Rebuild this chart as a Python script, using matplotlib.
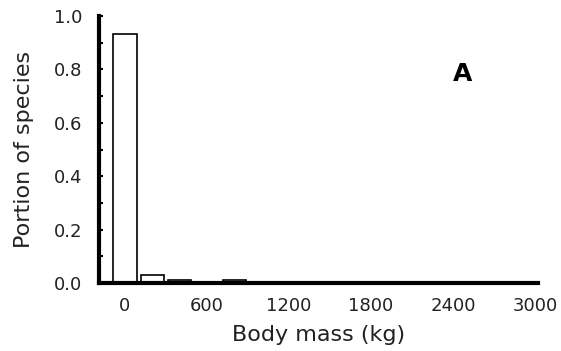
import matplotlib.pyplot as plt
import numpy as np

plt.rcParams['font.family'] = ['DejaVu Sans']

# body mass bins (kg) and portion of species
bins = [0, 200, 400, 600, 800]
portion = [0.933, 0.03, 0.01, 0.0, 0.01]
xticks = [0, 600, 1200, 1800, 2400, 3000]
yticks = [0.0, 0.2, 0.4, 0.6, 0.8, 1.0]

fig = plt.figure(figsize=(5.61, 3.51), dpi=100)
ax = fig.add_axes([99 / 561, (351 - 283) / 351, (538 - 99) / 561, (283 - 16) / 351])

ax.bar(bins, portion, width=170, color='white', edgecolor='black', linewidth=1.2)

ax.set_xlim(-190, 3022)
ax.set_ylim(0, 1.0)
ax.set_xticks(xticks)
ax.set_xticklabels([str(t) for t in xticks])
ax.set_yticks(yticks)
ax.set_yticklabels([f'{t:.1f}' for t in yticks])
ax.set_yticks(np.arange(0, 1.01, 0.1), minor=True)

for s in ['top', 'right']:
    ax.spines[s].set_visible(False)
for s in ['left', 'bottom']:
    ax.spines[s].set_linewidth(3)

ax.tick_params(axis='x', length=0, pad=10, labelsize=13, labelcolor='#222222')
ax.tick_params(axis='y', which='both', direction='in', length=3, width=1.5, pad=12,
               labelsize=13, labelcolor='#222222')

ax.set_xlabel('Body mass (kg)', fontsize=16, labelpad=7, color='#222222')
ax.set_ylabel('Portion of species', fontsize=16, labelpad=14, color='#222222')
ax.text(0.805, 0.755, 'A', transform=ax.transAxes, fontsize=18, fontweight='bold')

fig.savefig('out.png', dpi=100)
